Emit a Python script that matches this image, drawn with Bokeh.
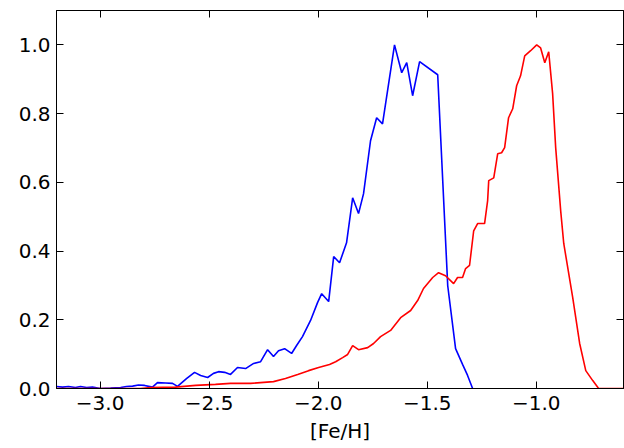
from bokeh.plotting import figure
from bokeh.models import Range1d, LinearAxis, FixedTicker
from bokeh.embed import file_html
from bokeh.resources import INLINE

# ---- data ----
blue_feh = [-3.200, -3.172, -3.145, -3.113, -3.090, -3.062, -3.035, -2.998, -2.952, -2.906,
            -2.879, -2.851, -2.824, -2.796, -2.760, -2.737, -2.700, -2.668, -2.645, -2.604,
            -2.567, -2.539, -2.507, -2.480, -2.457, -2.429, -2.402, -2.370, -2.333, -2.296,
            -2.264, -2.232, -2.205, -2.182, -2.154, -2.122, -2.099, -2.072, -2.035, -2.003,
            -1.984, -1.952, -1.929, -1.902, -1.870, -1.842, -1.815, -1.792, -1.760, -1.732,
            -1.705, -1.650, -1.617, -1.594, -1.567, -1.535, -1.452, -1.406, -1.370, -1.338,
            -1.315, -1.292]
blue_frac = [0.006, 0.004, 0.006, 0.003, 0.006, 0.003, 0.004, 0.000, 0.001, 0.003,
             0.006, 0.007, 0.010, 0.009, 0.004, 0.017, 0.016, 0.015, 0.006, 0.029,
             0.047, 0.038, 0.032, 0.044, 0.049, 0.047, 0.041, 0.061, 0.058, 0.073,
             0.078, 0.113, 0.093, 0.110, 0.116, 0.102, 0.125, 0.151, 0.198, 0.250,
             0.276, 0.253, 0.384, 0.366, 0.424, 0.555, 0.509, 0.567, 0.721, 0.788,
             0.770, 1.000, 0.919, 0.948, 0.852, 0.951, 0.913, 0.299, 0.116, 0.070,
             0.038, 0.000]

red_feh = [-3.200, -2.815, -2.769, -2.654, -2.562, -2.471, -2.402, -2.310, -2.205, -2.150,
           -2.094, -2.044, -1.998, -1.948, -1.920, -1.888, -1.865, -1.842, -1.815, -1.773,
           -1.746, -1.714, -1.668, -1.622, -1.576, -1.544, -1.517, -1.475, -1.448, -1.416,
           -1.379, -1.361, -1.338, -1.324, -1.306, -1.287, -1.269, -1.237, -1.223, -1.218,
           -1.195, -1.177, -1.159, -1.145, -1.127, -1.108, -1.090, -1.072, -1.053, -1.026,
           -0.998, -0.980, -0.961, -0.943, -0.925, -0.911, -0.888, -0.874, -0.833, -0.801,
           -0.773, -0.741, -0.714, -0.600]
red_frac = [0.000, 0.000, 0.003, 0.004, 0.009, 0.012, 0.015, 0.015, 0.020, 0.029,
            0.041, 0.052, 0.061, 0.070, 0.078, 0.090, 0.099, 0.125, 0.113, 0.119,
            0.131, 0.151, 0.169, 0.206, 0.227, 0.256, 0.291, 0.323, 0.337, 0.328,
            0.305, 0.323, 0.323, 0.349, 0.358, 0.459, 0.480, 0.480, 0.547, 0.605,
            0.613, 0.683, 0.686, 0.701, 0.788, 0.814, 0.881, 0.910, 0.968, 0.983,
            1.000, 0.991, 0.948, 0.980, 0.858, 0.701, 0.517, 0.422, 0.265, 0.131,
            0.052, 0.023, 0.000, 0.000]

x_ticks = [-3.0, -2.5, -2.0, -1.5, -1.0]
x_tick_labels = ["\u22123.0", "\u22122.5", "\u22122.0", "\u22121.5", "\u22121.0"]
y_ticks = [0.0, 0.2, 0.4, 0.6, 0.8, 1.0]
y_tick_labels = ["0.0", "0.2", "0.4", "0.6", "0.8", "1.0"]
x_label = "[Fe/H]"

FONT = "DejaVu Sans"
FSIZE = "20px"

p = figure(width=624, height=448, output_backend="svg", toolbar_location=None,
           x_range=Range1d(-3.2, -0.6), y_range=Range1d(0.0, 1.1),
           min_border_left=56, min_border_right=1, min_border_top=10, min_border_bottom=60,
           x_axis_label=x_label)

p.grid.visible = False
p.outline_line_color = "black"
p.outline_line_width = 1
p.background_fill_color = "white"
p.border_fill_color = "white"

xa = p.xaxis[0]
xa.ticker = FixedTicker(ticks=x_ticks)
xa.major_label_overrides = dict(zip(x_ticks, x_tick_labels))
ya = p.yaxis[0]
ya.ticker = FixedTicker(ticks=y_ticks)
ya.major_label_overrides = dict(zip(y_ticks, y_tick_labels))

for ax in (xa, ya):
    ax.major_tick_in = 7
    ax.major_tick_out = 0
    ax.minor_tick_line_color = None
    ax.axis_line_color = "black"
    ax.major_tick_line_color = "black"
    ax.major_label_text_font = FONT
    ax.major_label_text_font_size = FSIZE
    ax.major_label_text_color = "black"
xa.major_label_standoff = 7
ya.major_label_standoff = 6
xa.axis_label_text_font = FONT
xa.axis_label_text_font_size = FSIZE
xa.axis_label_text_font_style = "normal"
xa.axis_label_text_color = "black"
xa.axis_label_standoff = 6

top = LinearAxis(ticker=FixedTicker(ticks=x_ticks),
                 major_label_overrides={t: "" for t in x_ticks})
right = LinearAxis(ticker=FixedTicker(ticks=y_ticks),
                   major_label_overrides={t: "" for t in y_ticks})
for ax in (top, right):
    ax.major_tick_in = 7
    ax.major_tick_out = 0
    ax.minor_tick_line_color = None
    ax.axis_line_color = "black"
    ax.major_tick_line_color = "black"
    ax.major_label_standoff = 0
    ax.major_label_text_font_size = "1px"
p.add_layout(top, "above")
p.add_layout(right, "right")

p.line(blue_feh, blue_frac, line_color="#0000ff", line_width=1.6)
p.line(red_feh, red_frac, line_color="#ff0000", line_width=1.6)

open("out.html", "w").write(file_html(p, INLINE))
